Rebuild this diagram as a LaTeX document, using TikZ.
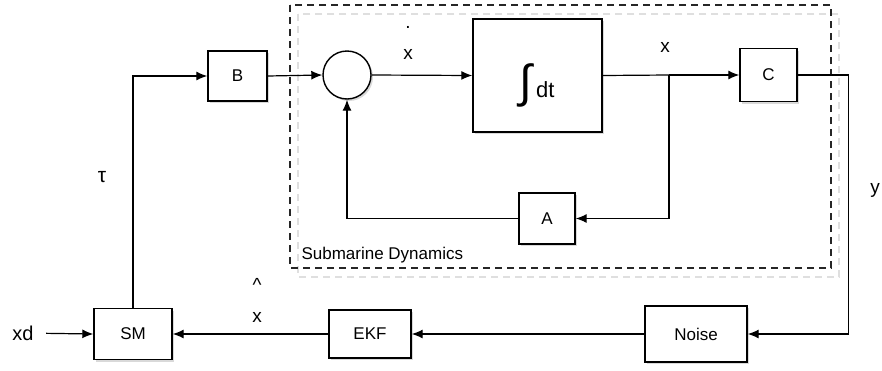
\documentclass[tikz,border=0pt]{standalone}
\usepackage{amsmath}
\usepackage{fontspec}
\setmainfont{Liberation Sans}
\usetikzlibrary{positioning, arrows.meta, shadows}

\begin{document}
\begin{tikzpicture}[x=1pt, y=-1pt,
	block/.style={draw, line width=1.4pt, fill=white, inner sep=0pt,
		font=\fontsize{17}{20}\selectfont,
		drop shadow={shadow xshift=2pt, shadow yshift=-2pt, opacity=0.3}},
	sumjunc/.style={circle, draw, line width=1.4pt, fill=white, minimum size=48pt, inner sep=0pt,
		drop shadow={shadow xshift=2pt, shadow yshift=-2pt, opacity=0.3}},
	sig/.style={line width=1.2pt, -{Latex[length=11pt, width=9pt]}},
	wire/.style={line width=1.2pt},
	lbl/.style={font=\fontsize{19}{31}\selectfont, align=center}]
		
		\useasboundingbox (0,0) rectangle (882,370);
		
		%Subsystem frame
		\draw[gray!25, line width=1.4pt, dash pattern=on 7pt off 5pt] (298,14) rectangle (839,277);
		\draw[black!85, line width=1.6pt, dash pattern=on 7pt off 5pt] (290,5) rectangle (831,268);
		\node[anchor=base west, font=\fontsize{17}{19}\selectfont] (subname) at (298,259) {Submarine Dynamics};
		
		%Blocks
		\node[block, minimum width=59pt, minimum height=50pt] (B) at (237.5,76) {B};
		\node[sumjunc] (sum) at (347,75) {};
		\node[block, minimum width=129pt, minimum height=113pt] (integ) at (537.5,75.5) {};
		\node[anchor=base, inner sep=0pt] (integtext) at (537,97)
		{{\fontsize{46}{48}\selectfont ∫}\hspace{4pt}{\fontsize{22}{24}\selectfont dt}};
		\node[block, minimum width=57pt, minimum height=53pt] (C) at (768.5,75) {C};
		\node[block, minimum width=56pt, minimum height=51pt] (A) at (547,218.5) {A};
		\node[block, minimum width=78pt, minimum height=51pt] (SM) at (133,334) {SM};
		\node[block, minimum width=82pt, minimum height=48pt] (EKF) at (370,334) {EKF};
		\node[block, minimum width=102pt, minimum height=56pt] (Noise) at (696,334) {Noise};
		\node[font=\fontsize{20}{22}\selectfont] (xd) at (23,333) {xd};
		\coordinate (branch) at (669,75);
		
		%Signals
		\draw[sig, shorten <=9pt] (xd) -- (SM.west);
		\draw[sig] (SM.north) |- (B.west);
		\draw[sig] (B.east) -- (sum.west);
		\draw[sig] (sum.east) -- (integ.west);
		\draw[wire] (integ.east) -- (branch);
		\draw[sig] (branch) -- (C.west);
		\draw[sig] (branch) |- (A.east);
		\draw[sig] (A.west) -| (sum.south);
		\draw[sig] (C.east) -- ++(51,0) |- (Noise.east);
		\draw[sig] (Noise.west) -- (EKF.east);
		\draw[sig] (EKF.west) -- (SM.east);
		
		%Labels
		\node[lbl] (xdotlbl) at (408,43) {.\\x};
		\node[lbl] (xlbl) at (665,47) {x};
		\node[lbl] (xhatlbl) at (257,300) {\^{}\\x};
		\node[lbl, font=\fontsize{21}{23}\selectfont] (taulbl) at (102,177) {τ};
		\node[lbl] (ylbl) at (875,190) {y};
		
\end{tikzpicture}
\end{document}
